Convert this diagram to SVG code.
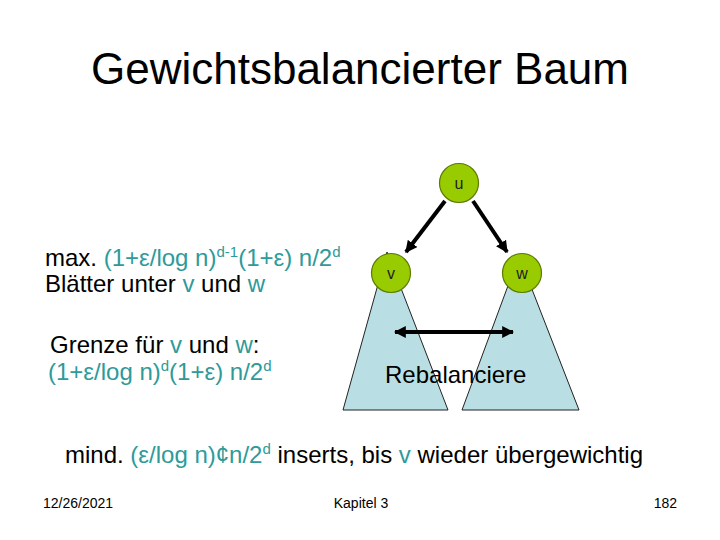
<svg xmlns="http://www.w3.org/2000/svg" width="720" height="540" viewBox="0 0 720 540">
<style>
text{font-family:"Liberation Sans",Arial,sans-serif;fill:#000}
.t{fill:#2e9a9a}
.body{font-size:24px}
.sup{font-size:15px}
.node circle{fill:#99cc00;stroke:#5a7a00;stroke-width:1.2}
.node text{font-size:16px;text-anchor:middle;fill:#222}
.tri{fill:#b9dfe4;stroke:#222;stroke-width:1}
.edge{stroke:#000;stroke-width:4;fill:none}
.foot{font-size:14px}
</style>
<defs>
<marker id="ah" viewBox="0 0 10 10" refX="9" refY="5" markerWidth="12" markerHeight="12" markerUnits="userSpaceOnUse" orient="auto-start-reverse">
<path d="M0,0 L10,5 L0,10 z" fill="#000"/>
</marker>
</defs>
<rect width="720" height="540" fill="#fff"/>
<text x="360" y="84" font-size="44" text-anchor="middle">Gewichtsbalancierter Baum</text>
<g id="subtrees">
<polygon class="tri" points="387,252 343,410 448,410"/>
<polygon class="tri" points="519,256 462,410 579,410"/>
</g>
<g id="connectors">
<line class="edge" x1="445" y1="201" x2="406" y2="252" marker-end="url(#ah)"/>
<line class="edge" x1="473" y1="201" x2="507" y2="252" marker-end="url(#ah)"/>
<line class="edge" x1="395" y1="332" x2="513" y2="332" marker-start="url(#ah)" marker-end="url(#ah)"/>
</g>
<g id="node-u" class="node"><circle cx="459" cy="183" r="19.5"/><text x="459" y="189">u</text></g>
<g id="node-v" class="node"><circle cx="391" cy="273" r="19.5"/><text x="391" y="279">v</text></g>
<g id="node-w" class="node"><circle cx="522" cy="273" r="19.5"/><text x="522" y="279">w</text></g>
<text x="385" y="383" class="body">Rebalanciere</text>
<text x="45" y="266" class="body">max. <tspan class="t">(1+ε/log n)</tspan><tspan class="t sup" dy="-9">d-1</tspan><tspan class="t" dy="9">(1+ε) n/2</tspan><tspan class="t sup" dy="-9">d</tspan></text>
<text x="45" y="292" class="body">Blätter unter <tspan class="t">v</tspan> und <tspan class="t">w</tspan></text>
<text x="50" y="353" class="body">Grenze für <tspan class="t">v</tspan> und <tspan class="t">w</tspan>:</text>
<text x="48" y="380" class="body"><tspan class="t">(1+ε/log n)</tspan><tspan class="t sup" dy="-9">d</tspan><tspan class="t" dy="9">(1+ε) n/2</tspan><tspan class="t sup" dy="-9">d</tspan></text>
<text x="65" y="463" class="body">mind. <tspan class="t">(ε/log n)¢n/2</tspan><tspan class="t sup" dy="-9">d</tspan><tspan dy="9"> inserts, bis </tspan><tspan class="t">v</tspan> wieder übergewichtig</text>
<text x="43" y="508" class="foot">12/26/2021</text>
<text x="361" y="508" class="foot" text-anchor="middle">Kapitel 3</text>
<text x="677" y="508" class="foot" text-anchor="end">182</text>
</svg>
